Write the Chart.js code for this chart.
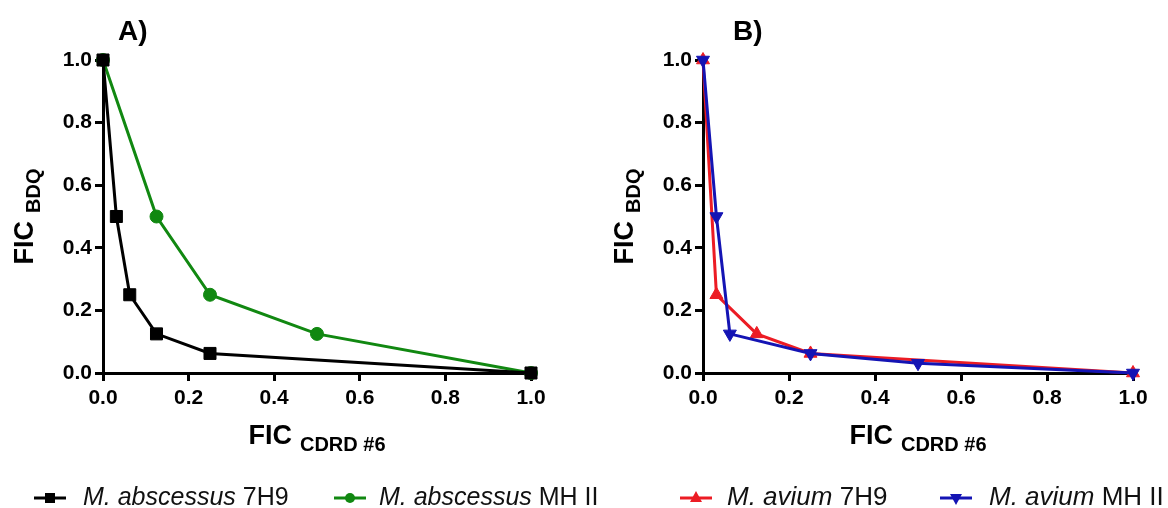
<!DOCTYPE html>
<html>
<head>
<meta charset="utf-8">
<script src="https://cdn.jsdelivr.net/npm/chart.js@4.4.1/dist/chart.umd.min.js"></script>
<style>
  html, body { margin: 0; padding: 0; background: #fff; }
  #wrap { position: relative; width: 1168px; height: 508px; overflow: hidden; background: #fff; }
  canvas { position: absolute; top: 0; }
  .leg { position: absolute; top: 484px; height: 24px; line-height: 24px; font-family: "Liberation Sans", Arial, sans-serif; font-size: 25px; color: #111; white-space: nowrap; }
  .leg.b { font-size: 26px; }
  .leg i { font-style: italic; }
  .mk { position: absolute; top: 487px; }
</style>
</head>
<body>
<div id="wrap">
  <canvas id="cA" width="584" height="508" style="left:0px"></canvas>
  <canvas id="cB" width="584" height="508" style="left:584px"></canvas>

  <svg class="mk" style="left:32px" width="36" height="20"><line x1="2" y1="11" x2="34" y2="11" stroke="#000" stroke-width="3"/><rect x="13" y="6" width="10" height="10" fill="#000"/></svg>
  <div class="leg" style="left:83px"><i>M. abscessus</i> 7H9</div>
  <svg class="mk" style="left:332px" width="36" height="20"><line x1="2" y1="11" x2="34" y2="11" stroke="#118811" stroke-width="3"/><circle cx="18" cy="11" r="5" fill="#118811"/></svg>
  <div class="leg" style="left:379px"><i>M. abscessus</i> MH II</div>

  <svg class="mk" style="left:678px" width="36" height="20"><line x1="2" y1="11" x2="34" y2="11" stroke="#ec1c24" stroke-width="3"/><polygon points="18,4 24,15 12,15" fill="#ec1c24"/></svg>
  <div class="leg b" style="left:727px"><i>M. avium</i> 7H9</div>
  <svg class="mk" style="left:938px" width="36" height="20"><line x1="2" y1="11" x2="34" y2="11" stroke="#1414b4" stroke-width="3"/><polygon points="12,7 24,7 18,18" fill="#1414b4"/></svg>
  <div class="leg b" style="left:989px"><i>M. avium</i> MH II</div>
</div>
<script>
// ---- data ----
const tickValues = [0, 0.2, 0.4, 0.6, 0.8, 1.0];

const abscessus7H9_x = [0, 0.03125, 0.0625, 0.125, 0.25, 1];
const abscessus7H9_y = [1, 0.5, 0.25, 0.125, 0.0625, 0];
const abscessusMH_x  = [0, 0.125, 0.25, 0.5, 1];
const abscessusMH_y  = [1, 0.5, 0.25, 0.125, 0];

const avium7H9_x = [0, 0.03125, 0.125, 0.25, 1];
const avium7H9_y = [1, 0.25, 0.125, 0.0625, 0];
const aviumMH_x  = [0, 0.03125, 0.0625, 0.25, 0.5, 1];
const aviumMH_y  = [1, 0.5, 0.125, 0.0625, 0.03125, 0];

const FONT = '"Liberation Sans", Arial, sans-serif';

function pts(xs, ys) { return xs.map((x, i) => ({ x: x, y: ys[i] })); }

const titlesPlugin = {
  id: 'axisTitles',
  afterDraw(chart, args, o) {
    const ctx = chart.ctx, ca = chart.chartArea;
    ctx.save();
    ctx.fillStyle = '#000';
    ctx.textBaseline = 'alphabetic';
    ctx.textAlign = 'left';
    const big = 'bold 27px ' + FONT, small = 'bold 20px ' + FONT;
    // x title
    ctx.font = big; const w1 = ctx.measureText('FIC').width;
    ctx.font = small; const w2 = ctx.measureText(o.xSub).width;
    const gap = 8;
    let sx = (ca.left + ca.right) / 2 - (w1 + gap + w2) / 2;
    ctx.font = big; ctx.fillText('FIC', sx, o.xBase);
    ctx.font = small; ctx.fillText(o.xSub, sx + w1 + gap, o.xBase + 7);
    // y title
    ctx.font = small; const w3 = ctx.measureText(o.ySub).width;
    ctx.save();
    ctx.translate(ca.left - 70, (ca.top + ca.bottom) / 2);
    ctx.rotate(-Math.PI / 2);
    const sy = -(w1 + gap + w3) / 2;
    ctx.font = big; ctx.fillText('FIC', sy, 0);
    ctx.font = small; ctx.fillText(o.ySub, sy + w1 + gap, 7);
    ctx.restore();
    // panel label
    ctx.font = 'bold 28px ' + FONT;
    ctx.fillText(o.panel, o.panelX, 40);
    ctx.restore();
  }
};

function axis(extra) {
  return Object.assign({
    type: 'linear', min: 0, max: 1,
    afterBuildTicks: s => { s.ticks = tickValues.map(v => ({ value: v })); },
    ticks: {
      font: { family: FONT, size: 21, weight: 'bold' }, color: '#000',
      callback: v => Number(v).toFixed(1), autoSkip: false, maxRotation: 0
    },
    grid: { display: true, drawOnChartArea: false, drawTicks: true, tickLength: 8, color: '#000', lineWidth: 3 },
    border: { display: true, color: '#000', width: 3 },
    title: { display: false }
  }, extra);
}

function makeChart(id, datasets, axisLeft, axisRight, panel, panelX) {
  const xa = axis({ afterFit: s => { s.height = 135; } });
  xa.ticks.padding = 5;
  const ya = axis({ afterFit: s => { s.width = axisLeft; } });
  ya.ticks.padding = 3;
  return new Chart(document.getElementById(id), {
    type: 'scatter',
    data: { datasets: datasets },
    options: {
      responsive: false, animation: false, devicePixelRatio: 1,
      layout: { padding: { left: 0, right: 584 - axisRight, top: 60, bottom: 0 } },
      plugins: {
        legend: { display: false }, tooltip: { enabled: false },
        axisTitles: { xSub: 'CDRD #6', ySub: 'BDQ', xBase: 444, panel: panel, panelX: panelX }
      },
      scales: { x: xa, y: ya }
    },
    plugins: [titlesPlugin]
  });
}

function ds(label, xs, ys, color, style, radius, rot) {
  return {
    label: label, data: pts(xs, ys), showLine: true, tension: 0,
    borderColor: color, backgroundColor: color, borderWidth: 3,
    pointStyle: style, pointRadius: radius, pointRotation: rot || 0,
    pointBorderWidth: 1, pointBorderColor: color, pointBackgroundColor: color,
    clip: false
  };
}

makeChart('cA', [
  ds('M. abscessus 7H9', abscessus7H9_x, abscessus7H9_y, '#000000', 'rect', 8.5),
  ds('M. abscessus MH II', abscessusMH_x, abscessusMH_y, '#118811', 'circle', 6.5)
], 103, 531, 'A)', 118);

makeChart('cB', [
  ds('M. avium MH II', aviumMH_x, aviumMH_y, '#1414b4', 'triangle', 7.5, 180),
  ds('M. avium 7H9', avium7H9_x, avium7H9_y, '#ec1c24', 'triangle', 7.5)
], 119, 549, 'B)', 149);
</script>
</body>
</html>
